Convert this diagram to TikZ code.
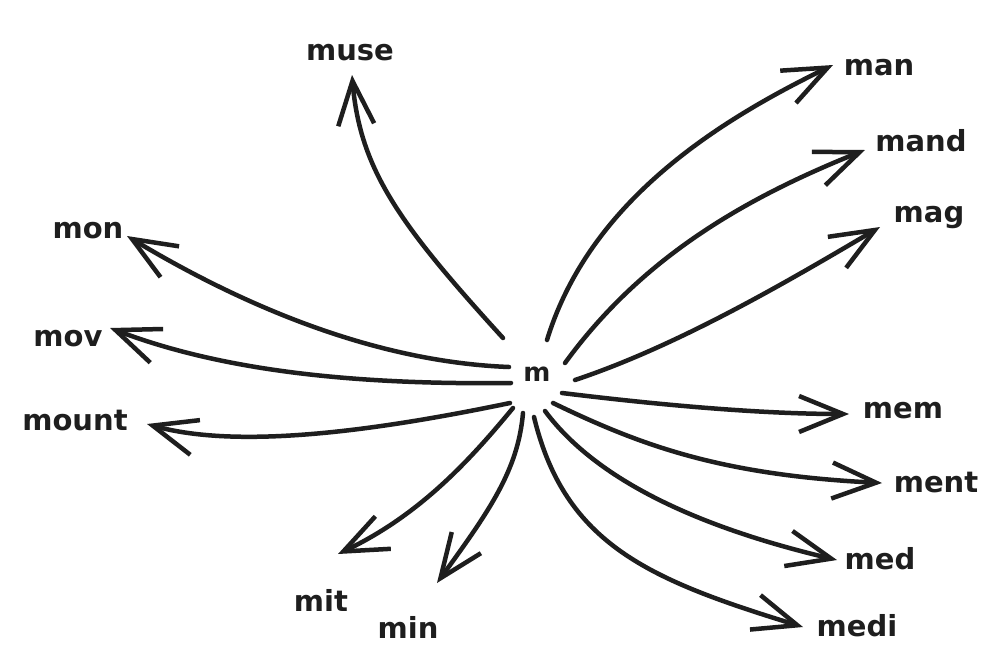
\documentclass[tikz,border=0pt]{standalone}
\usepackage{fontspec}
\setmainfont{DejaVu Sans}
\usetikzlibrary{arrows.meta}
\definecolor{ink}{HTML}{1E1E1E}
\begin{document}
\begin{tikzpicture}[x=1pt,y=-1pt,
  lab/.style={inner sep=0pt, text height=16pt, text depth=0pt, text=ink,
    font=\fontsize{29}{30}\selectfont\bfseries},
  hub/.style={inner sep=0pt, text height=14pt, text depth=0pt, text=ink,
    font=\fontsize{26}{28}\selectfont\bfseries},
  arr/.style={draw=ink, line width=4.5pt, line cap=round, line join=round,
    -{Straight Barb[length=44pt,width=36pt]}}]
\fill[white] (0,0) rectangle (1002,670);
\useasboundingbox (0,0) rectangle (1002,670);

% labels
\node[hub] (m) at (537,374) {m};
\node[lab] (muse)  at (350,52)  {muse};
\node[lab] (man)   at (879,67)  {man};
\node[lab] (mand)  at (921,143) {mand};
\node[lab] (mag)   at (929,214) {mag};
\node[lab] (mon)   at (88,230)  {mon};
\node[lab] (mov)   at (68,338)  {mov};
\node[lab] (mount) at (75,422)  {mount};
\node[lab] (mit)   at (321,603) {mit};
\node[lab] (min)   at (408,630) {min};
\node[lab] (mem)   at (903,410) {mem};
\node[lab] (ment)  at (936,484) {ment};
\node[lab] (med)   at (880,561) {med};
\node[lab] (medi)  at (857,628) {medi};

% start points around the hub
\coordinate (s-muse)  at (503,338);
\coordinate (s-man)   at (547,340);
\coordinate (s-mand)  at (565,363);
\coordinate (s-mag)   at (575,380);
\coordinate (s-mon)   at (509,367);
\coordinate (s-mov)   at (511,383);
\coordinate (s-mount) at (510,403);
\coordinate (s-mem)   at (562,393);
\coordinate (s-ment)  at (553,403);
\coordinate (s-med)   at (545,411);
\coordinate (s-medi)  at (534,417);
\coordinate (s-mit)   at (513,408);
\coordinate (s-min)   at (523,413);

% arrow tips next to the labels
\coordinate (t-muse)  at (352,75);
\coordinate (t-man)   at (833,65);
\coordinate (t-mand)  at (865,150);
\coordinate (t-mag)   at (880,227);
\coordinate (t-mon)   at (127,236);
\coordinate (t-mov)   at (110,328);
\coordinate (t-mount) at (147,424);
\coordinate (t-mem)   at (849,414);
\coordinate (t-ment)  at (882,483);
\coordinate (t-med)   at (837,560);
\coordinate (t-medi)  at (803,627);
\coordinate (t-mit)   at (338,554);
\coordinate (t-min)   at (437,583);

\draw[arr] (s-muse)  .. controls (400,225) and (360,170) .. (t-muse);
\draw[arr] (s-man)   .. controls (590,200) and (720,120) .. (t-man);
\draw[arr] (s-mand)  .. controls (640,260) and (740,200) .. (t-mand);
\draw[arr] (s-mag)   .. controls (680,345) and (790,280) .. (t-mag);
\draw[arr] (s-mon)   .. controls (380,362) and (250,310) .. (t-mon);
\draw[arr] (s-mov)   .. controls (350,385) and (220,370) .. (t-mov);
\draw[arr] (s-mount) .. controls (380,430) and (240,450) .. (t-mount);
\draw[arr] (s-mem)   .. controls (660,405) and (760,414) .. (t-mem);
\draw[arr] (s-ment)  .. controls (640,445) and (720,475) .. (t-ment);
\draw[arr] (s-med)   .. controls (600,485) and (710,530) .. (t-med);
\draw[arr] (s-medi)  .. controls (565,545) and (650,580) .. (t-medi);
\draw[arr] (s-mit)   .. controls (470,460) and (420,515) .. (t-mit);
\draw[arr] (s-min)   .. controls (518,470) and (490,510) .. (t-min);
\end{tikzpicture}
\end{document}
